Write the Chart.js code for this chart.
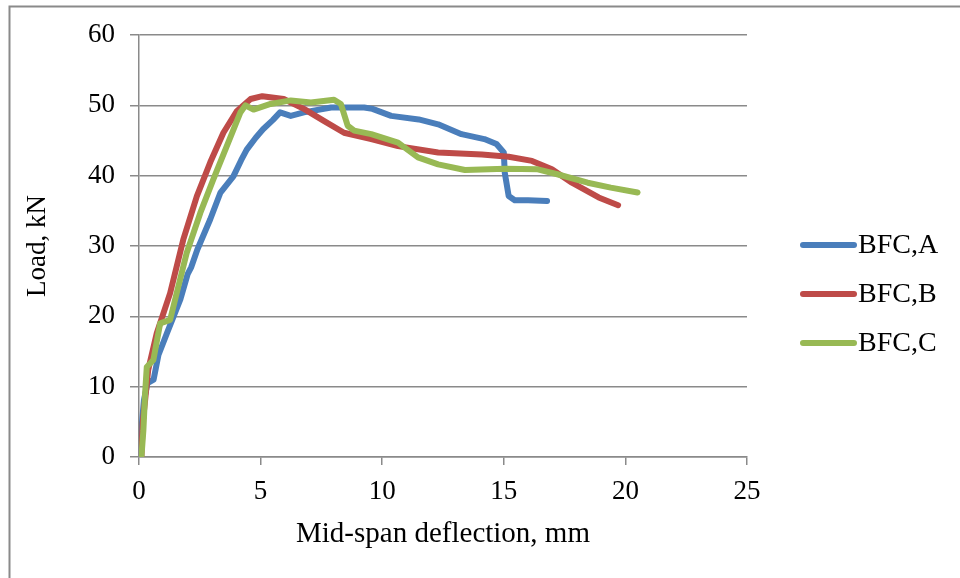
<!DOCTYPE html>
<html>
<head>
<meta charset="utf-8">
<script src="https://cdn.jsdelivr.net/npm/chart.js@4.4.0/dist/chart.umd.min.js"></script>
<style>
  html, body { margin: 0; padding: 0; background: #fff; }
  #wrap { width: 960px; height: 578px; }
</style>
</head>
<body>
<div id="wrap"><canvas id="chart" width="960" height="578"></canvas></div>
<script>
// mid-span deflection (mm) and load (kN)
var deflA = [0.05, 0.1, 0.2, 0.35, 0.6, 0.8, 1.15, 1.7, 2.0, 2.15, 2.4, 2.93, 3.35, 3.88, 4.2, 4.43, 4.8, 5.1, 5.5, 5.8, 6.24, 6.78, 7.9, 9.26, 9.6, 10.37, 11.5, 12.3, 13.26, 14.2, 14.7, 15.0, 15.04, 15.2, 15.45, 16.0, 16.78]
var loadA = [0, 4, 8, 10.5, 11, 14.5, 17.6, 22.4, 26, 27, 29.5, 33.8, 37.6, 39.9, 42.2, 43.7, 45.4, 46.6, 47.9, 49, 48.5, 49, 49.7, 49.7, 49.5, 48.5, 48, 47.3, 45.9, 45.2, 44.5, 43.3, 40.4, 37.1, 36.5, 36.5, 36.4]

var deflB = [0.1, 0.15, 0.25, 0.38, 0.73, 1.28, 1.82, 2.38, 2.93, 3.47, 4.03, 4.59, 5.07, 5.95, 6.78, 7.6, 8.43, 9.55, 10.65, 12.3, 14.1, 15.2, 16.16, 16.98, 17.8, 18.9, 19.7]
var loadB = [0, 4.8, 8, 12.4, 17.6, 23.3, 30.9, 37.1, 41.9, 46.1, 49.2, 50.9, 51.3, 50.9, 49.5, 47.8, 46.1, 45.2, 44.2, 43.3, 43.0, 42.7, 42.1, 40.9, 39.0, 36.9, 35.8]

var deflC = [0.1, 0.18, 0.25, 0.32, 0.59, 0.87, 1.28, 1.55, 1.96, 2.52, 3.06, 3.61, 4.17, 4.38, 4.71, 5.41, 6.24, 7.07, 8.02, 8.3, 8.58, 8.85, 9.55, 10.65, 11.47, 12.3, 13.4, 15.05, 16.4, 17.2, 18.45, 19.4, 20.5]
var loadC = [0, 3.8, 9, 12.8, 13.8, 19, 19.5, 23.3, 29, 34.7, 39.5, 44.2, 49, 50, 49.4, 50.2, 50.7, 50.4, 50.8, 50.2, 47.1, 46.4, 45.9, 44.7, 42.6, 41.6, 40.8, 41.0, 40.9, 40.2, 39.0, 38.3, 37.6]

var seriesNames = ['BFC,A', 'BFC,B', 'BFC,C']
var seriesColors = ['#4A7EBB', '#BE4B48', '#98B954']
var xTicks = [0, 5, 10, 15, 20, 25]
var yTicks = [0, 10, 20, 30, 40, 50, 60]

var FONT = 'Liberation Serif, Times New Roman, serif'
var GRID = '#8a8a8a'

function toPoints (xs, ys) {
  return xs.map(function (x, i) { return { x: x, y: ys[i] } })
}

function makeDataset (i, xs, ys) {
  return {
    label: seriesNames[i],
    data: toPoints(xs, ys),
    borderColor: seriesColors[i],
    backgroundColor: seriesColors[i],
    borderWidth: 6,
    borderCapStyle: 'round',
    borderJoinStyle: 'round',
    pointRadius: 0,
    showLine: true,
    tension: 0,
    order: 2 - i // later series drawn on top, like the original
  }
}

// light frame around the picture
var framePlugin = {
  id: 'frame',
  beforeDraw: function (chart) {
    var ctx = chart.ctx
    ctx.save()
    ctx.strokeStyle = '#8a8a8a'
    ctx.lineWidth = 2
    ctx.beginPath()
    ctx.moveTo(9.5, chart.height + 2)
    ctx.lineTo(9.5, 6.5)
    ctx.lineTo(chart.width + 2, 6.5)
    ctx.stroke()
    ctx.restore()
  }
}

// legend on the right: line sample + label
var sideLegend = {
  id: 'sideLegend',
  afterDraw: function (chart) {
    var ctx = chart.ctx
    var area = chart.chartArea
    var x0 = area.right + 54
    var mid = 294
    ctx.save()
    ctx.font = '28px ' + FONT
    ctx.textBaseline = 'middle'
    ctx.textAlign = 'left'
    seriesNames.forEach(function (name, i) {
      var y = mid + (i - 1) * 49
      ctx.strokeStyle = seriesColors[i]
      ctx.lineWidth = 6
      ctx.lineCap = 'round'
      ctx.beginPath()
      ctx.moveTo(x0 + 2, y)
      ctx.lineTo(x0 + 53, y)
      ctx.stroke()
      ctx.fillStyle = '#000'
      ctx.fillText(name, x0 + 57, y + 1)
    })
    ctx.restore()
  }
}

new Chart(document.getElementById('chart'), {
  type: 'scatter',
  data: {
    datasets: [
      makeDataset(0, deflA, loadA),
      makeDataset(1, deflB, loadB),
      makeDataset(2, deflC, loadC)
    ]
  },
  options: {
    responsive: false,
    animation: false,
    layout: { padding: { left: 0, top: 35, right: 213, bottom: 0 } },
    plugins: {
      legend: { display: false },
      tooltip: { enabled: false }
    },
    scales: {
      x: {
        type: 'linear',
        min: 0,
        max: 25,
        afterBuildTicks: function (scale) {
          scale.ticks = xTicks.map(function (v) { return { value: v } })
        },
        afterFit: function (scale) { scale.height = 121 },
        grid: { drawOnChartArea: false, color: GRID, lineWidth: 1.5, tickLength: 8 },
        border: { display: true, color: GRID, width: 1.5 },
        ticks: { color: '#000', padding: 11, maxRotation: 0, font: { family: FONT, size: 27 } },
        title: {
          display: true,
          text: 'Mid-span deflection, mm',
          color: '#000',
          font: { family: FONT, size: 29 },
          padding: { top: 0, bottom: 26 }
        }
      },
      y: {
        type: 'linear',
        min: 0,
        max: 60,
        afterBuildTicks: function (scale) {
          scale.ticks = yTicks.map(function (v) { return { value: v } })
        },
        afterFit: function (scale) { scale.width = 139 },
        grid: { color: GRID, lineWidth: 1.5, tickLength: 9 },
        border: { display: true, color: GRID, width: 1.5 },
        ticks: { color: '#000', padding: 15, font: { family: FONT, size: 27 } },
        title: {
          display: true,
          text: 'Load, kN',
          color: '#000',
          font: { family: FONT, size: 27 },
          padding: { top: 22, bottom: 0 }
        }
      }
    }
  },
  plugins: [framePlugin, sideLegend]
})
</script>
</body>
</html>
